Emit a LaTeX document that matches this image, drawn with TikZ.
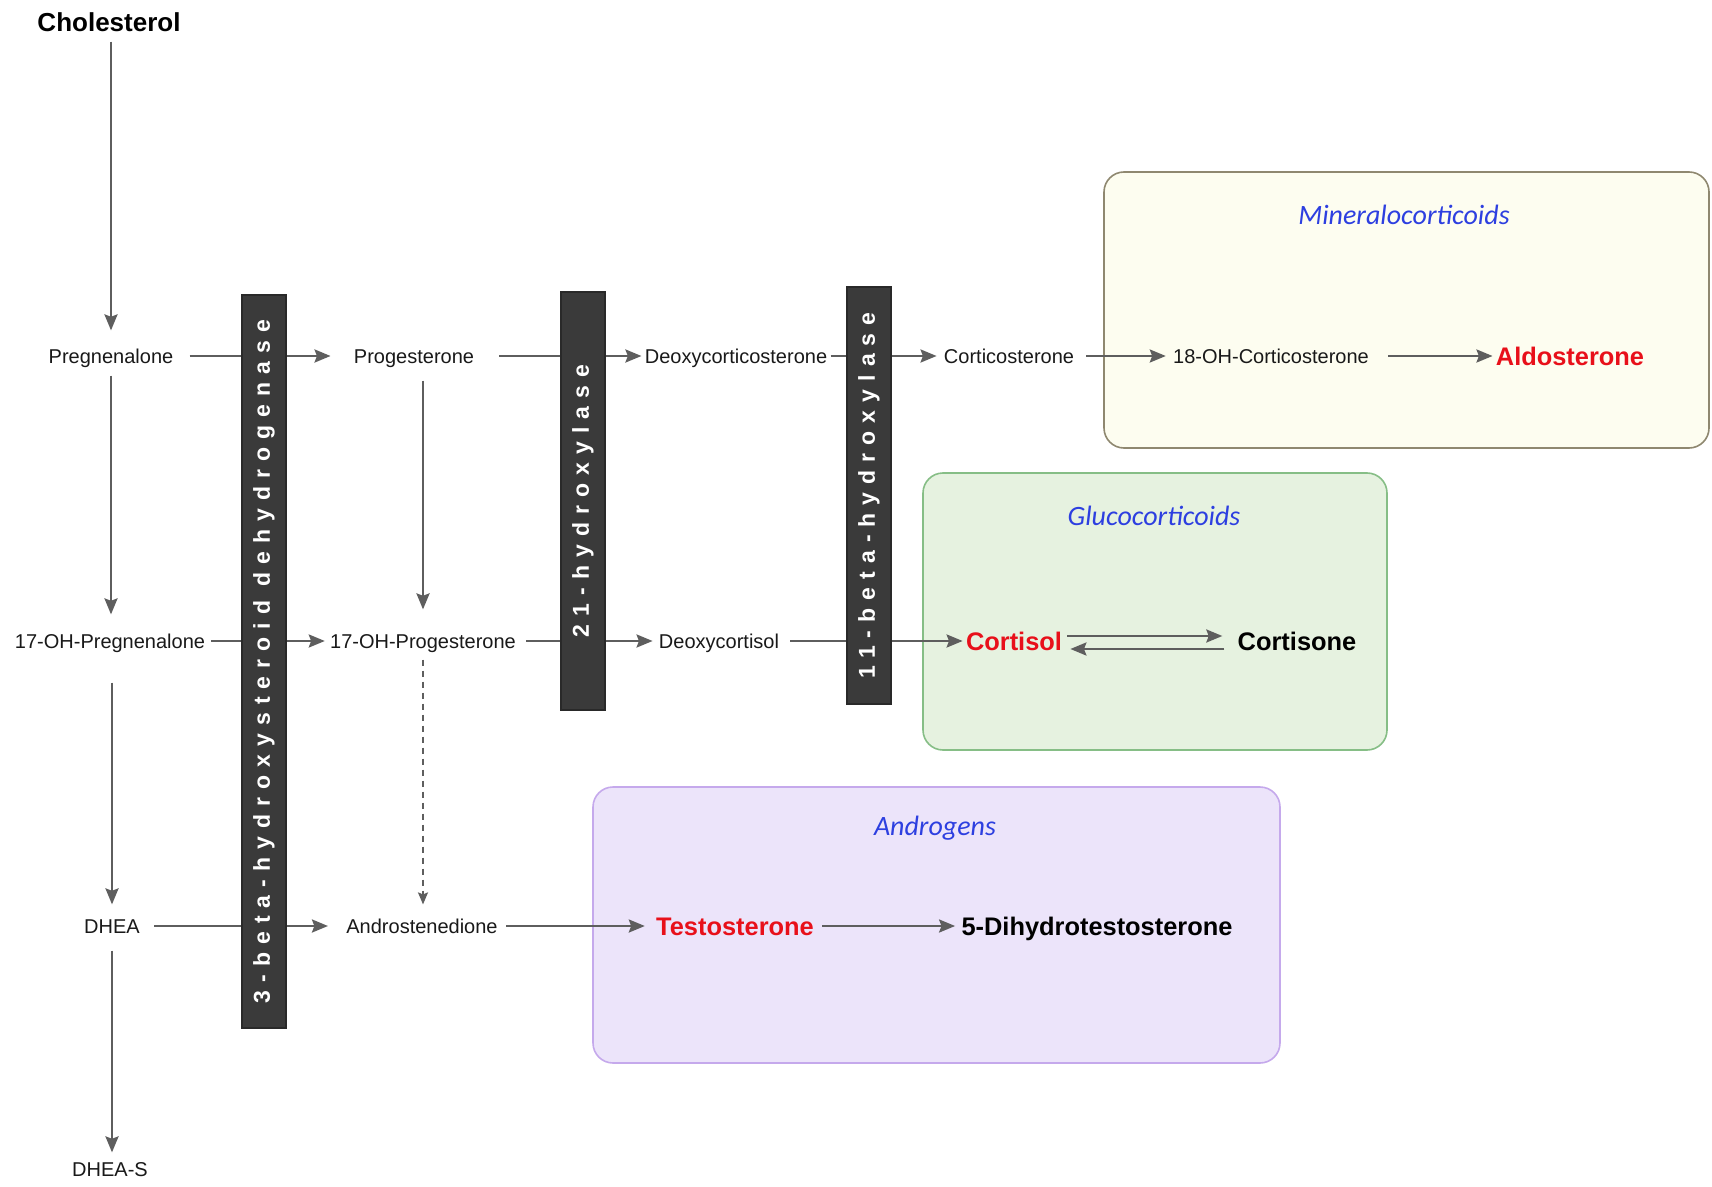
\documentclass[tikz,border=0pt]{standalone}
\usepackage{fontspec}
\setmainfont{Liberation Sans}
\newfontfamily\titlefont{Carlito}
\newfontfamily\barfont{Liberation Sans}[LetterSpace=35]
\usetikzlibrary{arrows.meta,calc}
\definecolor{arrowgray}{HTML}{5E5E5E}
\definecolor{hotred}{HTML}{E8101A}
\definecolor{titleblue}{HTML}{2D3FE0}
\definecolor{barfill}{HTML}{3A3A3A}
\definecolor{minfill}{HTML}{FDFDF0}
\definecolor{mindraw}{HTML}{8F8870}
\definecolor{glufill}{HTML}{E6F2E0}
\definecolor{gludraw}{HTML}{86BE86}
\definecolor{andfill}{HTML}{ECE4FA}
\definecolor{anddraw}{HTML}{C5A9EC}
\tikzset{
  reg/.style={font=\fontsize{10}{12}\selectfont, text=black!90, inner sep=0pt, text height=7.2pt, text depth=0pt},
  boldlbl/.style={font=\fontsize{12.7}{15}\selectfont\bfseries, text=black, inner sep=0pt, text height=9.1pt, text depth=0pt},
  hot/.style={boldlbl, text=hotred},
  arr/.style={draw=arrowgray, line width=1.25pt, -{Stealth[length=8pt,width=6.5pt,inset=1.2pt]}},
  dasharr/.style={draw=arrowgray, line width=0.8pt, dash pattern=on 3pt off 2.5pt, -{Stealth[length=6pt,width=5pt,inset=1pt]}},
  enzyme/.style={fill=barfill, draw=barfill!70!black, line width=0.6pt, rotate=90, text=white,
    font=\barfont\fontsize{11.5}{13}\selectfont\bfseries, minimum height=22pt, inner sep=0pt},
  grpbox/.style={rounded corners=10pt, line width=0.8pt, inner sep=0pt},
  grptitle/.style={font=\titlefont\itshape\fontsize{14}{16}\selectfont, text=titleblue, inner sep=0pt}
}
\begin{document}
\begin{tikzpicture}[x=0.5pt,y=-0.5pt]
\useasboundingbox (0,0) rectangle (1712,1187);
\fill[white] (0,0) rectangle (1712,1187);

% group boxes
\node[grpbox, fill=minfill, draw=mindraw, minimum width=302.5pt, minimum height=138pt] (minbox) at (1406.5,310) {};
\node[grpbox, fill=glufill, draw=gludraw, minimum width=232pt, minimum height=138.5pt] (glubox) at (1155,611.5) {};
\node[grpbox, fill=andfill, draw=anddraw, minimum width=343.5pt, minimum height=138pt] (andbox) at (936.5,925) {};
\node[grptitle] (mintitle) at (1404,215) {Mineralocorticoids};
\node[grptitle] (glutitle) at (1154,516) {Glucocorticoids};
\node[grptitle] (andtitle) at (935,828) {Androgens};

% compounds
\node[boldlbl, font=\fontsize{13}{15}\selectfont\bfseries, text height=9.3pt] (chol) at (109,22) {Cholesterol};
\node[reg] (preg) at (111,356) {Pregnenalone};
\node[reg] (prog) at (414,356) {Progesterone};
\node[reg] (doc) at (736,356) {Deoxycorticosterone};
\node[reg] (cort) at (1009,356) {Corticosterone};
\node[reg] (ohc) at (1271,356) {18-OH-Corticosterone};
\node[hot] (aldo) at (1570,356) {Aldosterone};
\node[reg] (ohpreg) at (110,641) {17-OH-Pregnenalone};
\node[reg] (ohprog) at (423,641) {17-OH-Progesterone};
\node[reg] (dcl) at (719,641) {Deoxycortisol};
\node[hot] (cortisol) at (1014,641) {Cortisol};
\node[boldlbl] (cortisone) at (1297,641) {Cortisone};
\node[reg] (dhea) at (112,926) {DHEA};
\node[reg] (andro) at (422,926) {Androstenedione};
\node[hot] (testo) at (735,926) {Testosterone};
\node[boldlbl] (dht) at (1097,926) {5-Dihydrotestosterone};
\node[reg] (dheas) at (110,1169) {DHEA-S};

% horizontal connectors
\draw[arr] ($(preg.east)+(16,0)$) -- ($(prog.west)+(-23,0)$);
\draw[arr] ($(prog.east)+(25,0)$) -- ($(doc.west)+(-3,0)$);
\draw[arr] ($(doc.east)+(3,0)$) -- ($(cort.west)+(-7,0)$);
\draw[arr] ($(cort.east)+(12,0)$) -- ($(ohc.west)+(-7,0)$);
\draw[arr] ($(ohc.east)+(19,0)$) -- ($(aldo.west)+(-3,0)$);
\draw[arr] ($(ohpreg.east)+(6,0)$) -- ($(ohprog.west)+(-5,0)$);
\draw[arr] ($(ohprog.east)+(10,0)$) -- ($(dcl.west)+(-6,0)$);
\draw[arr] ($(dcl.east)+(11,0)$) -- ($(cortisol.west)+(-3,0)$);
\draw[arr] ($(cortisol.east)+(5,-5)$) -- ($(cortisone.west)+(-15,-5)$);
\draw[arr] ($(cortisone.west)+(-13,8)$) -- ($(cortisol.east)+(8,8)$);
\draw[arr] ($(dhea.east)+(14,0)$) -- ($(andro.west)+(-18,0)$);
\draw[arr] ($(andro.east)+(8,0)$) -- ($(testo.west)+(-11,0)$);
\draw[arr] ($(testo.east)+(8,0)$) -- ($(dht.west)+(-6,0)$);

% vertical connectors
\draw[arr] ($(chol.south -| preg.north)+(0,10)$) -- ($(preg.north)+(0,-18)$);
\draw[arr] ($(preg.south)+(0,12)$) -- ($(preg.south |- ohpreg.north)+(0,-19)$);
\draw[arr] ($(prog.south -| ohprog.north)+(0,17)$) -- ($(ohprog.north)+(0,-24)$);
\draw[dasharr] ($(ohprog.south)+(0,11)$) -- ($(ohprog.south |- andro.north)+(0,-14)$);
\draw[arr] ($(ohpreg.south -| dhea.north)+(0,34)$) -- ($(dhea.north)+(0,-14)$);
\draw[arr] ($(dhea.south)+(0,17)$) -- ($(dhea.south |- dheas.north)+(0,-9)$);

% enzyme bars
\node[enzyme, minimum width=366.5pt] (hsd) at (264,661.5) {3-beta-hydroxysteroid dehydrogenase};
\node[enzyme, minimum width=209pt] (h21) at (583,501) {21-hydroxylase};
\node[enzyme, minimum width=208.5pt] (h11) at (869,495.5) {11-beta-hydroxylase};
\end{tikzpicture}
\end{document}
